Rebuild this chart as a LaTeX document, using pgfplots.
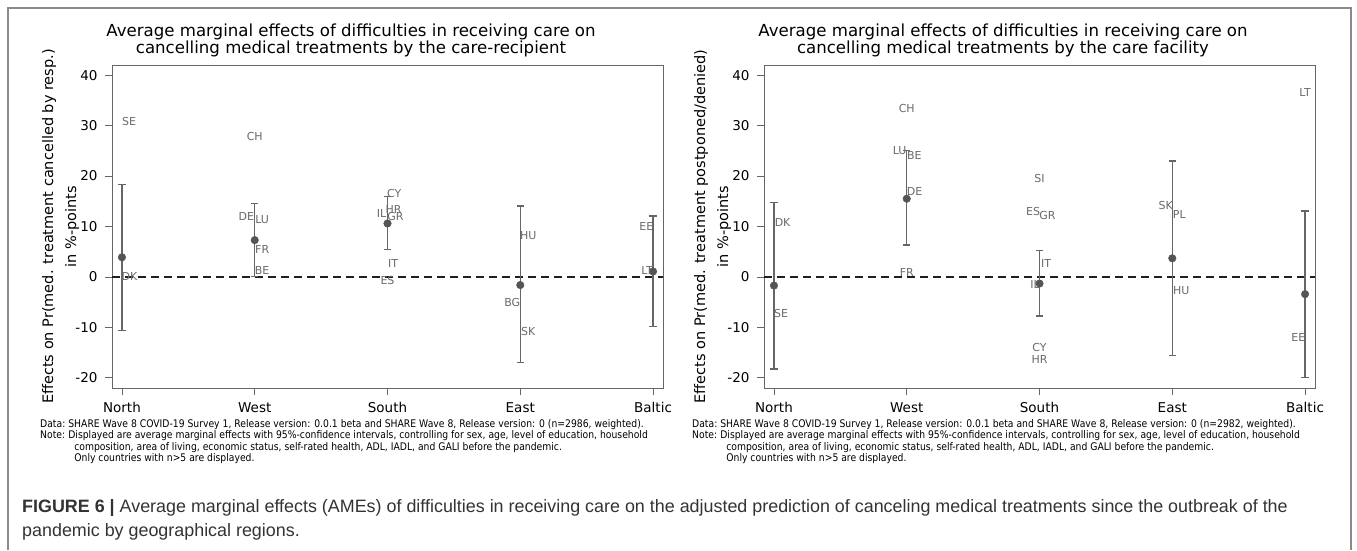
\documentclass[border=0pt]{standalone}
\usepackage{fontspec}
\setmainfont{DejaVu Sans}
\newfontfamily\capfont{Liberation Sans}
\newfontfamily\notefont[FakeStretch=0.88]{DejaVu Sans}
\usepackage{pgfplots}
\usepackage{pgfplotstable}
\pgfplotsset{compat=1.18}
\definecolor{axgray}{HTML}{666666}
\definecolor{cigray}{HTML}{666666}
\definecolor{dotgray}{HTML}{555555}
\definecolor{lblgray}{HTML}{6A6A6A}
\definecolor{framegray}{HTML}{8A8A8A}
\definecolor{captext}{HTML}{333333}

\pgfplotstableread{
x y lo hi
0 3.9 -10.6 18.3
1 7.3 0.1 14.6
2 10.6 5.5 15.9
3 -1.6 -17.0 14.1
4 1.1 -9.8 12.1
}\estA
\pgfplotstableread{
x y lab
0.053 30.9 SE
0.057 0.0 DK
1.0 27.8 CH
0.937 11.9 DE
1.056 11.4 LU
1.056 5.5 FR
1.056 1.2 BE
2.05 16.6 CY
2.045 13.4 HR
1.955 12.5 IL
2.06 12.0 GR
2.043 2.7 IT
2.0 -0.7 ES
3.06 8.3 HU
2.94 -5.1 BG
3.06 -10.8 SK
3.95 10.0 EE
3.955 1.2 LT
}\labA
\pgfplotstableread{
x y lo hi
0 -1.7 -18.2 14.7
1 15.5 6.3 25.1
2 -1.3 -7.7 5.2
3 3.7 -15.6 23.0
4 -3.4 -19.9 13.1
}\estB
\pgfplotstableread{
x y lab
0.065 10.8 DK
0.053 -7.2 SE
1.0 33.3 CH
0.947 25.0 LU
1.058 24.1 BE
1.06 16.9 DE
1.0 0.9 FR
2.0 19.5 SI
1.952 12.9 ES
2.06 12.2 GR
2.05 2.6 IT
1.966 -1.4 IL
2.0 -14.0 CY
2.0 -16.4 HR
2.95 14.1 SK
3.053 12.4 PL
3.068 -2.6 HU
4.0 36.6 LT
3.95 -12.0 EE
}\labB

\pgfplotsset{
  panel/.style={
    scale only axis, width=551pt, height=323pt,
    xmin=-0.075, xmax=4.075, ymin=-22, ymax=42,
    xtick={0,1,2,3,4}, xticklabels={North,West,South,East,Baltic},
    ytick={-20,-10,0,10,20,30,40},
    yticklabels={{-20},{-10},{0},{10},{20},{30},{40}},
    tick align=outside, major tick length=7pt,
    xtick pos=bottom, ytick pos=left,
    axis line style={draw=axgray, line width=0.9pt},
    every tick/.style={draw=axgray, line width=0.9pt},
    tick label style={font=\fontsize{13.5}{14}\selectfont, text=black},
    xticklabel shift=4pt, yticklabel shift=4pt,
    clip=false,
  },
  zeroline/.style={draw=black!88, line width=1.4pt, dash pattern=on 8pt off 5pt},
  cibars/.style={only marks, mark=none, forget plot,
    error bars/.cd, y dir=both, y explicit, error mark=none,
    error bar style={draw=cigray, line width=1.5pt}},
  caps/.style={only marks, mark=-, mark size=3.6pt, forget plot,
    mark options={draw=cigray, line width=1.4pt}},
  dots/.style={only marks, mark=*, mark size=3.8pt, mark options={fill=dotgray, draw=dotgray}},
  lbls/.style={only marks, mark=none, nodes near coords, point meta=explicit symbolic,
    every node near coord/.append style={anchor=center, font=\fontsize{11}{12}\selectfont, text=lblgray, inner sep=0pt}},
}

\newcommand{\notesA}[1]{%
  \notefont\fontsize{10.5}{11.5}\selectfont
  \begin{tabular}{@{}l@{\hspace{3pt}}l@{}}
  Data: & SHARE Wave 8 COVID-19 Survey 1, Release version: 0.0.1 beta and SHARE Wave 8, Release version: 0 (n=#1, weighted).\\
  Note: & Displayed are average marginal effects with 95\%-confidence intervals, controlling for sex, age, level of education, household\\
        & \hspace{6pt}composition, area of living, economic status, self-rated health, ADL, IADL, and GALI before the pandemic.\\
        & \hspace{6pt}Only countries with n>5 are displayed.
  \end{tabular}}

\begin{document}
\begin{tikzpicture}[x=1pt,y=1pt]
\path[use as bounding box] (0,0) rectangle (1357,550);
\draw[framegray, line width=1.3pt] (8,0) -- (8,542) -- (1351,542) -- (1351,0);

% left panel
\begin{axis}[panel, at={(112pt,162pt)}, anchor=south west]
\addplot[zeroline] coordinates {(-0.075,0) (4.075,0)};
\addplot[cibars] table[x=x, y=y, y error plus expr=\thisrow{hi}-\thisrow{y}, y error minus expr=\thisrow{y}-\thisrow{lo}] {\estA};
\addplot[caps] table[x=x, y=lo] {\estA};
\addplot[caps] table[x=x, y=hi] {\estA};
\addplot[dots] table[x=x, y=y] {\estA};
\addplot[lbls] table[x=x, y=y, meta=lab] {\labA};
\end{axis}

% right panel
\begin{axis}[panel, at={(764pt,162pt)}, anchor=south west]
\addplot[zeroline] coordinates {(-0.075,0) (4.075,0)};
\addplot[cibars] table[x=x, y=y, y error plus expr=\thisrow{hi}-\thisrow{y}, y error minus expr=\thisrow{y}-\thisrow{lo}] {\estB};
\addplot[caps] table[x=x, y=lo] {\estB};
\addplot[caps] table[x=x, y=hi] {\estB};
\addplot[dots] table[x=x, y=y] {\estB};
\addplot[lbls] table[x=x, y=y, meta=lab] {\labB};
\end{axis}

% titles
\node[align=center, font=\fontsize{16.6}{17}\selectfont] at (351,509.5)
  {Average marginal effects of difficulties in receiving care on\\cancelling medical treatments by the care-recipient};
\node[align=center, font=\fontsize{16.6}{17}\selectfont] at (1003,509.5)
  {Average marginal effects of difficulties in receiving care on\\cancelling medical treatments by the care facility};

% y labels
\node[rotate=90, font=\fontsize{14.5}{15}\selectfont] at (49,323.5) {Effects on Pr(med. treatment cancelled by resp.)};
\node[rotate=90, font=\fontsize{14.5}{15}\selectfont] at (72,323.5) {in \%-points};
\node[rotate=90, font=\fontsize{14.5}{15}\selectfont] at (701,323.5) {Effects on Pr(med. treatment postponed/denied)};
\node[rotate=90, font=\fontsize{14.5}{15}\selectfont] at (724,323.5) {in \%-points};

% notes
\node[anchor=north west, inner sep=0pt] at (40,131) {\notesA{2986}};
\node[anchor=north west, inner sep=0pt] at (692,131) {\notesA{2982}};

% caption
\node[anchor=base west, inner sep=0pt, text=captext, font=\capfont\fontsize{17.9}{24}\selectfont] at (22,38)
  {\textbf{FIGURE 6 |} Average marginal effects (AMEs) of difficulties in receiving care on the adjusted prediction of canceling medical treatments since the outbreak of the};
\node[anchor=base west, inner sep=0pt, text=captext, font=\capfont\fontsize{17.9}{24}\selectfont] at (22,14)
  {pandemic by geographical regions.};
\end{tikzpicture}
\end{document}
